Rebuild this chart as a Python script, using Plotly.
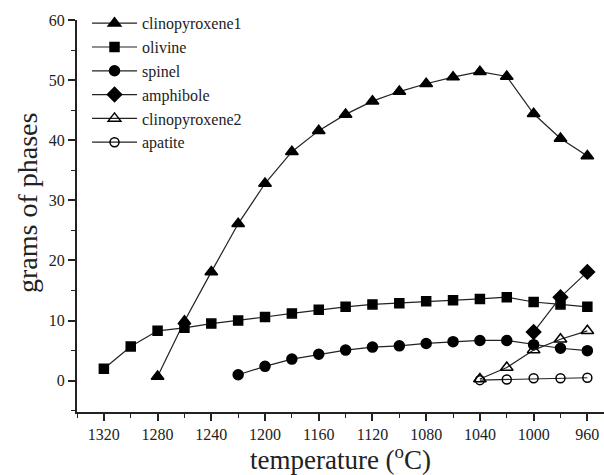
import plotly.graph_objects as go

temps_cpx1 = [1280, 1260, 1240, 1220, 1200, 1180, 1160, 1140, 1120, 1100, 1080, 1060, 1040, 1020, 1000, 980, 960]
cpx1 = [0.7, 9.9, 18.1, 26.1, 32.8, 38.1, 41.6, 44.3, 46.5, 48.1, 49.4, 50.5, 51.4, 50.6, 44.4, 40.3, 37.4]

temps_ol = [1320, 1300, 1280, 1260, 1240, 1220, 1200, 1180, 1160, 1140, 1120, 1100, 1080, 1060, 1040, 1020, 1000, 980, 960]
olivine = [2.0, 5.7, 8.3, 8.8, 9.5, 10.0, 10.6, 11.2, 11.8, 12.3, 12.7, 12.9, 13.2, 13.4, 13.6, 13.9, 13.1, 12.7, 12.3]

temps_sp = [1220, 1200, 1180, 1160, 1140, 1120, 1100, 1080, 1060, 1040, 1020, 1000, 980, 960]
spinel = [1.0, 2.4, 3.6, 4.4, 5.1, 5.6, 5.8, 6.2, 6.5, 6.7, 6.7, 6.0, 5.4, 5.0]

temps_amph = [1000, 980, 960]
amphibole = [8.1, 13.9, 18.1]

temps_cpx2 = [1040, 1020, 1000, 980, 960]
cpx2 = [0.3, 2.2, 5.1, 6.9, 8.3]

temps_ap = [1040, 1020, 1000, 980, 960]
apatite = [0.1, 0.2, 0.4, 0.4, 0.5]

series = [
    ("clinopyroxene1", temps_cpx1, cpx1, "triangle-up", "black", 11),
    ("olivine", temps_ol, olivine, "square", "black", 9),
    ("spinel", temps_sp, spinel, "circle", "black", 10),
    ("amphibole", temps_amph, amphibole, "diamond", "black", 11),
    ("clinopyroxene2", temps_cpx2, cpx2, "triangle-up-open", "black", 11),
    ("apatite", temps_ap, apatite, "circle-open", "black", 9),
]

fig = go.Figure()
for name, x, y, sym, col, sz in series:
    fig.add_trace(go.Scatter(
        x=x, y=y, name=name, mode="lines+markers",
        line=dict(color="#222", width=1.2),
        marker=dict(symbol=sym, size=sz, color=col,
                    line=dict(color="black", width=1.5)),
    ))

font_family = "Liberation Serif, Times New Roman, serif"
fig.update_layout(
    width=604, height=475,
    margin=dict(l=77, r=0, t=20, b=63, autoexpand=False),
    paper_bgcolor="white", plot_bgcolor="white",
    font=dict(family=font_family, color="#222", size=16),
    showlegend=True,
    legend=dict(x=0.019, y=1.035, xanchor="left", yanchor="top",
                bgcolor="rgba(0,0,0,0)", font=dict(size=16, family=font_family),
                itemwidth=45, tracegroupgap=0),
    xaxis=dict(
        range=[1340, 947.6], tickmode="linear", tick0=960, dtick=40,
        showline=True, linecolor="#222", linewidth=2,
        ticks="outside", ticklen=7, tickwidth=1.5, tickcolor="#222",
        minor=dict(dtick=20, ticks="outside", ticklen=4, tickwidth=1.2, tickcolor="#222", showgrid=False),
        showgrid=False, zeroline=False,
        tickfont=dict(size=16, family=font_family),
        title=dict(text="temperature (<sup>o</sup>C)", font=dict(size=27, family=font_family), standoff=1),
    ),
    yaxis=dict(
        range=[-5.2, 60], tickmode="linear", tick0=0, dtick=10,
        showline=True, linecolor="#222", linewidth=2,
        ticks="outside", ticklen=7, tickwidth=1.5, tickcolor="#222",
        minor=dict(dtick=5, ticks="outside", ticklen=4, tickwidth=1.2, tickcolor="#222", showgrid=False),
        showgrid=False, zeroline=False,
        tickfont=dict(size=16, family=font_family),
    ),
    annotations=[dict(
        text="grams of phases", textangle=-90, showarrow=False,
        xref="paper", yref="paper", x=-0.0949, y=0.533,
        xanchor="center", yanchor="middle",
        font=dict(size=28, family=font_family, color="#222"),
    )],
)

fig.write_html("out.html",
               config={"displayModeBar": False},
               post_script="document.body.style.margin='0';document.body.style.padding='0';")
